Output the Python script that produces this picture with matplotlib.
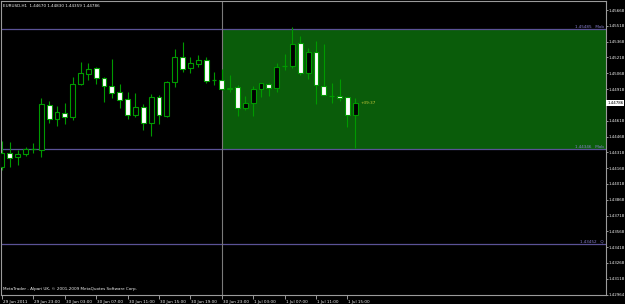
import matplotlib
matplotlib.use("Agg")
import matplotlib.pyplot as plt
import matplotlib.transforms as mtransforms
from matplotlib.patches import Rectangle

# ---- data (EURUSD H1, 29 Jun 2011 19:00 .. 1 Jul 2011 16:00) ----
opens = [1.44182, 1.44314, 1.44271, 1.44299, 1.44347, 1.44340, 1.44767, 1.44631, 1.44694, 1.44650,
         1.44963, 1.45064, 1.45115, 1.45020, 1.44950, 1.44888, 1.44821, 1.44672, 1.44745, 1.44599,
         1.44846, 1.44666, 1.44982, 1.45220, 1.45115, 1.45159, 1.45194, 1.45007, 1.45001, 1.44916,
         1.44938, 1.44736, 1.44783, 1.44916, 1.44969, 1.44926, 1.45137, 1.45137, 1.45353, 1.45074,
         1.45273, 1.44945, 1.44855, 1.44852, 1.44840, 1.44670]
highs = [1.44428, 1.44413, 1.44340, 1.44371, 1.44404, 1.44836, 1.44805, 1.44758, 1.44783, 1.45036,
         1.45175, 1.45168, 1.45131, 1.45036, 1.45204, 1.44966, 1.44893, 1.44878, 1.44777, 1.44869,
         1.44862, 1.44995, 1.45298, 1.45362, 1.45225, 1.45242, 1.45220, 1.45077, 1.45106, 1.45052,
         1.44957, 1.44852, 1.44950, 1.44976, 1.44976, 1.45168, 1.45251, 1.45504, 1.45422, 1.45305,
         1.45374, 1.45346, 1.44973, 1.45014, 1.44846, 1.44830]
lows = [1.44150, 1.44176, 1.44198, 1.44283, 1.44309, 1.44271, 1.44593, 1.44571, 1.44584, 1.44625,
        1.44957, 1.45004, 1.44963, 1.44793, 1.44831, 1.44736, 1.44631, 1.44656, 1.44530, 1.44473,
        1.44584, 1.44656, 1.44935, 1.45083, 1.45068, 1.45131, 1.44973, 1.44957, 1.44909, 1.44893,
        1.44663, 1.44720, 1.44663, 1.44846, 1.44852, 1.44893, 1.45099, 1.45115, 1.45052, 1.45011,
        1.44777, 1.44859, 1.44783, 1.44805, 1.44561, 1.44359]
closes = [1.44314, 1.44261, 1.44299, 1.44347, 1.44352, 1.44774, 1.44634, 1.44698, 1.44656, 1.44963,
          1.45068, 1.45112, 1.45020, 1.44950, 1.44884, 1.44815, 1.44675, 1.44745, 1.44599, 1.44846,
          1.44669, 1.44982, 1.45220, 1.45112, 1.45163, 1.45191, 1.44998, 1.45005, 1.44916, 1.44931,
          1.44736, 1.44783, 1.44916, 1.44973, 1.44926, 1.45131, 1.45135, 1.45346, 1.45074, 1.45273,
          1.44954, 1.44862, 1.44853, 1.44836, 1.44672, 1.44786]

time_tick_bars = [0, 4, 8, 12, 16, 20, 24, 28, 32, 36, 40, 44]
time_tick_labels = ["29 Jun 2011", "29 Jun 23:00", "30 Jun 03:00", "30 Jun 07:00", "30 Jun 11:00",
                    "30 Jun 15:00", "30 Jun 19:00", "30 Jun 23:00", "1 Jul 03:00", "1 Jul 07:00",
                    "1 Jul 11:00", "1 Jul 15:00"]
price_ticks = [1.45668, 1.45518, 1.45368, 1.45218, 1.45068, 1.44918, 1.44618, 1.44468, 1.44318,
               1.44168, 1.44018, 1.43868, 1.43718, 1.43568, 1.43418, 1.43268, 1.43118, 1.42964]

hlines = [1.45485, 1.44346, 1.43452]
hline_names = ["Mob", "Mob", "Q"]
rect_start_bar = 28
vline_bar = 28
current_price = 1.44786
header = "EURUSD,H1  1.44670 1.44830 1.44359 1.44786"
footer = "MetaTrader - Alpari UK, \u00a9 2001-2009 MetaQuotes Software Corp."
timer_text = "+39:37"

# ---- style ----
BG = "#000000"
FRAME = "#9a9a9a"
TXT = "#f0f0f0"
CANDLE = "#009a00"
RECT = "#0a5c0a"
HLINE = "#5a5296"
FONT = ["DejaVu Sans"]
FS = 3.0
FSY = 2.85

W, H = 625, 304
fig = plt.figure(figsize=(W / 100, H / 100), dpi=100, facecolor=BG)
ax = fig.add_axes([1 / W, 9 / H, 605 / W, 294 / H], facecolor=BG)

ax.set_xlim(-1 / 7.85, 604 / 7.85)
ax.set_ylim(1.42964, 1.45754)

# rectangle and lines
ymin, ymax = min(hlines[0], hlines[1]), max(hlines[0], hlines[1])
ax.add_patch(Rectangle((rect_start_bar, ymin), 200, ymax - ymin, facecolor=RECT,
                       edgecolor="none", zorder=0.5))
for v in hlines:
    ax.axhline(v, color=HLINE, lw=0.9, zorder=1)
ax.axvline(vline_bar, color="#7a7a7a", lw=0.8, zorder=1)

# candles
bw = 0.62
for i, (o, h, l, c) in enumerate(zip(opens, highs, lows, closes)):
    ax.vlines(i, l, h, color=CANDLE, lw=0.8, zorder=2)
    bottom = min(o, c)
    height = abs(c - o)
    face = "#000000" if c > o else "#ffffff"
    if height < 0.00003:
        ax.hlines(o, i - bw / 2, i + bw / 2, color=CANDLE, lw=0.9, zorder=3)
    else:
        ax.bar(i, height, bottom=bottom, width=bw, facecolor=face, edgecolor=CANDLE,
               linewidth=0.8, zorder=3)

# labels on lines
blend = mtransforms.blended_transform_factory(ax.transAxes, ax.transData)
for v, nm in zip(hlines, hline_names):
    ax.text(0.996, v, f"{v:.5f}   {nm}", transform=blend,
            ha="right", va="bottom", color="#8a80d0", fontsize=FS, family=FONT, zorder=4)

ax.text(45.7, current_price, timer_text, color="#c8c83a", fontsize=FS, family=FONT,
        va="center", ha="left", zorder=4)

# frame
for s in ax.spines.values():
    s.set_color(FRAME)
    s.set_linewidth(0.8)

# axes ticks
ax.yaxis.tick_right()
ax.set_yticks(price_ticks)
ax.set_yticklabels([f"{p:.5f}" for p in price_ticks])
ax.tick_params(axis="y", colors=FRAME, labelcolor=TXT, labelsize=FSY, length=1.5, width=0.7, pad=0.6)
ax.set_xticks(time_tick_bars)
ax.set_xticklabels(time_tick_labels)
ax.tick_params(axis="x", colors=FRAME, labelcolor=TXT, labelsize=FS, length=3, width=0.7, pad=0.8)
offset = mtransforms.ScaledTranslation(1 / 100, 0, fig.dpi_scale_trans)
for lab in ax.get_xticklabels():
    lab.set_horizontalalignment("left")
    lab.set_family(FONT)
    lab.set_transform(lab.get_transform() + offset)
for lab in ax.get_yticklabels():
    lab.set_family(FONT)

# current price box
ax.text(1.002, current_price, f"{current_price:.5f}", transform=blend,
        ha="left", va="center", color="#000000", fontsize=FSY, family=FONT,
        bbox=dict(facecolor="#ffffff", edgecolor="none", pad=0.5), zorder=5, clip_on=False)

# header and footer
ax.text(0.004, 0.99, header, transform=ax.transAxes, ha="left", va="top", color=TXT,
        fontsize=FS, family=FONT)
ax.text(0.004, 0.014, footer, transform=ax.transAxes, ha="left", va="bottom", color=TXT,
        fontsize=FS, family=FONT)

fig.savefig("out.png", dpi=100, facecolor=BG)
